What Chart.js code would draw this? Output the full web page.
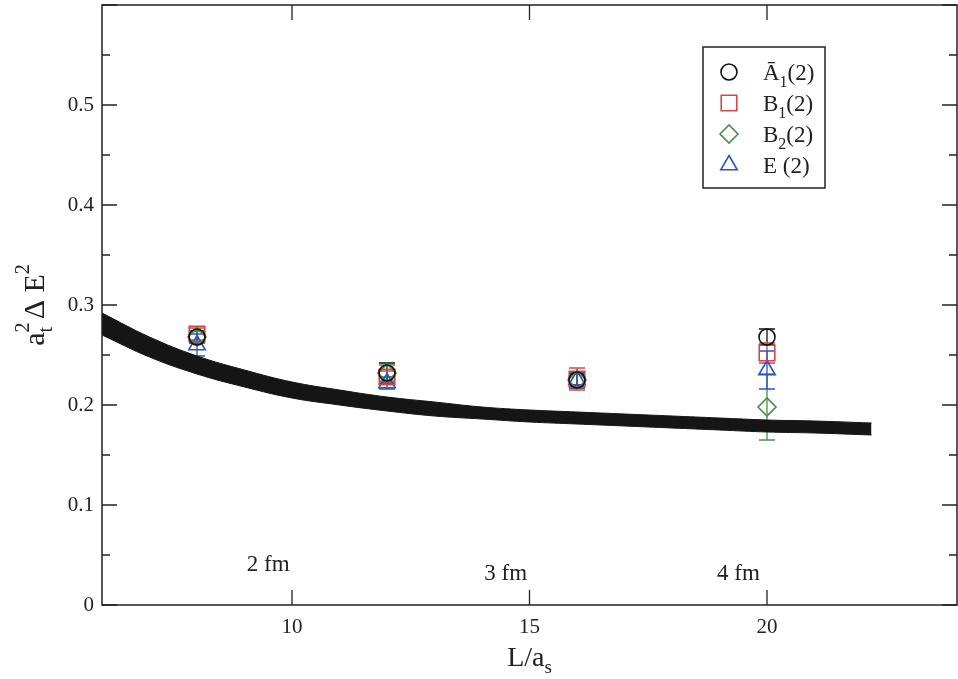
<!DOCTYPE html>
<html>
<head>
<meta charset="utf-8">
<script src="https://cdn.jsdelivr.net/npm/chart.js@4.4.0/dist/chart.umd.min.js"></script>
<style>
  body { margin: 0; background: #fff; }
  #wrap { width: 958px; height: 679px; }
</style>
</head>
<body>
<div id="wrap"><canvas id="spectrumChart" width="958" height="679"></canvas></div>
<script>
// lattice sizes L/a_s where the levels were measured
var latticeSizes = [8, 12, 16, 20]

// energies a_t^2 dE^2 per irrep, with errors
var a1Vals = [0.268, 0.232, 0.225, 0.268]
var a1Errs = [0.006, 0.010, 0.006, 0.008]
var b1Vals = [0.271, 0.228, 0.226, 0.252]
var b1Errs = [0.006, 0.006, 0.011, 0.010]
var b2Vals = [0.268, 0.232, 0.225, 0.198]
var b2Errs = [0.006, 0.008, 0.008, 0.033]
var eVals = [0.260, 0.222, 0.225, 0.235]
var eErrs = [0.011, 0.006, 0.008, 0.019]

// band (upper / lower edge)
var bandL = [6, 7, 8, 9, 10, 11, 12, 13, 14, 15, 16, 17, 18, 19, 20, 21, 22.2]
var bandHi = [0.292, 0.268, 0.249, 0.235, 0.223, 0.215, 0.208, 0.203, 0.198, 0.195, 0.193, 0.191, 0.189, 0.187, 0.185, 0.184, 0.182]
var bandLo = [0.270, 0.248, 0.231, 0.218, 0.207, 0.200, 0.194, 0.189, 0.186, 0.183, 0.181, 0.179, 0.177, 0.175, 0.173, 0.172, 0.170]

var xTickVals = [10, 15, 20]
var fmLabels = ['2 fm', '3 fm', '4 fm']
var fmX = [9.5, 14.5, 19.4]
var fmY = [0.040, 0.031, 0.031]

var SERIF = "'Liberation Serif', 'DejaVu Serif', serif"
var RED = 'rgb(215, 70, 70)'
var GREEN = 'rgb(70, 145, 70)'
var BLUE = 'rgb(40, 85, 200)'

var series = [
    { vals: a1Vals, errs: a1Errs, color: '#111', style: 'circle', r: 8, name: ['Ā', '1', '(2)'] },
    { vals: b1Vals, errs: b1Errs, color: RED, style: 'rect', r: 11, name: ['B', '1', '(2)'] },
    { vals: b2Vals, errs: b2Errs, color: GREEN, style: 'rectRot', r: 9, name: ['B', '2', '(2)'] },
    { vals: eVals, errs: eErrs, color: BLUE, style: 'triangle', r: 9.5, name: ['E (2)', '', ''] },
]

function toPoints(xs, ys) {
    return xs.map(function (x, i) { return { x: x, y: ys[i] } })
}

var datasets = series.map(function (s, k) {
    return {
        type: 'scatter',
        data: toPoints(latticeSizes, s.vals),
        pointStyle: s.style,
        pointRadius: s.r,
        borderColor: s.color,
        backgroundColor: 'rgba(0,0,0,0)',
        borderWidth: 1.6,
        order: k + 1
    }
})

datasets.push({
    type: 'line',
    data: toPoints(bandL, bandHi),
    borderColor: '#151515',
    borderWidth: 1,
    pointRadius: 0,
    tension: 0.4,
    fill: false,
    order: 20
})
datasets.push({
    type: 'line',
    data: toPoints(bandL, bandLo),
    borderColor: '#151515',
    backgroundColor: '#151515',
    borderWidth: 1,
    pointRadius: 0,
    tension: 0.4,
    fill: '-1',
    order: 21
})

// draws a run of text pieces: {t, size, dy, adv}
function drawRich(ctx, parts, cx, cy) {
    var total = 0
    parts.forEach(function (p) {
        ctx.font = p.size + 'px ' + SERIF
        p.w = ctx.measureText(p.t).width
        if (p.adv !== false) total += p.w
    })
    var x = cx - total / 2
    ctx.textAlign = 'left'
    ctx.textBaseline = 'alphabetic'
    parts.forEach(function (p) {
        ctx.font = p.size + 'px ' + SERIF
        ctx.fillText(p.t, x, cy + (p.dy || 0))
        if (p.adv !== false) x += p.w
    })
}

var errorBars = {
    id: 'errorBars',
    beforeDatasetsDraw: function (chart) {
        var ctx = chart.ctx, xs = chart.scales.x, ys = chart.scales.y
        ctx.save()
        ctx.lineWidth = 1.3
        series.forEach(function (s) {
            ctx.strokeStyle = s.color
            latticeSizes.forEach(function (L, j) {
                var px = xs.getPixelForValue(L)
                var top = ys.getPixelForValue(s.vals[j] + s.errs[j])
                var bot = ys.getPixelForValue(s.vals[j] - s.errs[j])
                ctx.beginPath()
                ctx.moveTo(px, top); ctx.lineTo(px, bot)
                ctx.moveTo(px - 8, top); ctx.lineTo(px + 8, top)
                ctx.moveTo(px - 8, bot); ctx.lineTo(px + 8, bot)
                ctx.stroke()
            })
        })
        ctx.restore()
    }
}

var frameAndText = {
    id: 'frameAndText',
    afterDraw: function (chart) {
        var ctx = chart.ctx, a = chart.chartArea, xs = chart.scales.x, ys = chart.scales.y
        ctx.save()
        ctx.strokeStyle = '#222'
        ctx.lineWidth = 1.5
        ctx.strokeRect(a.left, a.top, a.right - a.left, a.bottom - a.top)

        // inward ticks on all four sides
        ctx.lineWidth = 1.3
        ctx.beginPath()
        for (var v = 0; v <= 0.6001; v += 0.05) {
            var major = Math.round(v * 100) % 10 === 0
            var len = major ? 15 : 8
            var py = ys.getPixelForValue(v)
            ctx.moveTo(a.left, py); ctx.lineTo(a.left + len, py)
            ctx.moveTo(a.right, py); ctx.lineTo(a.right - len, py)
        }
        xTickVals.forEach(function (t) {
            var px = xs.getPixelForValue(t)
            ctx.moveTo(px, a.bottom); ctx.lineTo(px, a.bottom - 15)
            ctx.moveTo(px, a.top); ctx.lineTo(px, a.top + 15)
        })
        ctx.stroke()

        // size annotations
        ctx.fillStyle = '#222'
        ctx.font = '23px ' + SERIF
        ctx.textAlign = 'center'
        ctx.textBaseline = 'middle'
        fmLabels.forEach(function (txt, i) {
            ctx.fillText(txt, xs.getPixelForValue(fmX[i]), ys.getPixelForValue(fmY[i]))
        })

        // legend box
        var bx = 703, by = 47, bw = 122, bh = 141
        ctx.lineWidth = 1.5
        ctx.strokeStyle = '#222'
        ctx.strokeRect(bx, by, bw, bh)
        series.forEach(function (s, i) {
            var ry = by + 25 + i * 31
            ctx.strokeStyle = s.color
            ctx.fillStyle = 'rgba(0,0,0,0)'
            ctx.lineWidth = 1.6
            Chart.helpers.drawPoint(ctx, { pointStyle: s.style, radius: s.r, borderWidth: 1.6 }, bx + 26, ry)
            ctx.fillStyle = '#222'
            ctx.textAlign = 'left'
            ctx.textBaseline = 'alphabetic'
            var tx = bx + 60
            ctx.font = '23px ' + SERIF
            ctx.fillText(s.name[0], tx, ry + 8)
            tx += ctx.measureText(s.name[0]).width
            if (s.name[1]) {
                ctx.font = '16px ' + SERIF
                ctx.fillText(s.name[1], tx, ry + 15)
                tx += ctx.measureText(s.name[1]).width
                ctx.font = '23px ' + SERIF
                ctx.fillText(s.name[2], tx, ry + 8)
            }
        })

        // axis titles
        ctx.fillStyle = '#222'
        drawRich(ctx, [
            { t: 'L/a', size: 28 },
            { t: 's', size: 19, dy: 7 }
        ], (a.left + a.right) / 2, 666)

        ctx.translate(44, (a.top + a.bottom) / 2)
        ctx.rotate(-Math.PI / 2)
        drawRich(ctx, [
            { t: 'a', size: 30 },
            { t: '2', size: 20, dy: -15, adv: false },
            { t: 't', size: 20, dy: 8 },
            { t: ' Δ E', size: 30 },
            { t: '2', size: 20, dy: -15 }
        ], 0, 0)
        ctx.restore()
    }
}

function noScalePadding(scale) {
    scale.paddingTop = 0
    scale.paddingBottom = 0
    scale.paddingLeft = 0
    scale.paddingRight = 0
}

var spectrumChart = new Chart(document.getElementById('spectrumChart').getContext('2d'), {
    type: 'scatter',
    data: { datasets: datasets },
    options: {
        responsive: false,
        animation: false,
        layout: { autoPadding: false, padding: { left: 0, top: 5, right: 1, bottom: 0 } },
        plugins: {
            legend: { display: false },
            tooltip: { enabled: false },
        },
        scales: {
            x: {
                type: 'linear',
                min: 6,
                max: 24,
                grid: { display: false, drawTicks: false },
                border: { display: false },
                afterBuildTicks: function (scale) {
                    scale.ticks = xTickVals.map(function (v) { return { value: v } })
                },
                afterFit: function (scale) { scale.height = 74; noScalePadding(scale) },
                ticks: {
                    padding: 10,
                    color: '#222',
                    maxRotation: 0,
                    font: { family: SERIF, size: 21 },
                }
            },
            y: {
                type: 'linear',
                min: 0,
                max: 0.6,
                grid: { display: false, drawTicks: false },
                border: { display: false },
                afterFit: function (scale) { scale.width = 102; noScalePadding(scale) },
                ticks: {
                    stepSize: 0.1,
                    padding: 8,
                    color: '#222',
                    font: { family: SERIF, size: 21 },
                    callback: function (v) {
                        if (v > 0.55) return ''
                        return v === 0 ? '0' : v.toFixed(1)
                    }
                }
            }
        }
    },
    plugins: [errorBars, frameAndText]
})
</script>
</body>
</html>
